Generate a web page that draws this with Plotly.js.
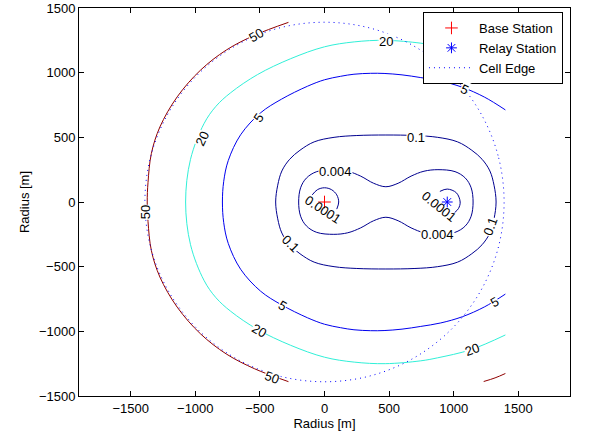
<!DOCTYPE html>
<html>
<head>
<meta charset="utf-8">
<script src="https://cdn.plot.ly/plotly-3.0.1.min.js"></script>
<style>html,body{margin:0;padding:0;background:#fff;}#chart{width:590px;height:439px;}</style>
</head>
<body>
<div id="chart"></div>
<script>
// ---- stations ----
const baseX = [0], baseY = [0];
const relayX = [950], relayY = [0];

// ---- cell edge (dotted circle) ----
const edgeX = [1390, 1343, 1204, 983, 695, 360, 0, -360, -695, -983, -1204, -1343, -1390, -1343, -1204, -983, -695, -360, 0, 360, 695, 983, 1204, 1343, 1390];
const edgeY = [0, 360, 695, 983, 1204, 1343, 1390, 1343, 1204, 983, 695, 360, 0, -360, -695, -983, -1204, -1343, -1390, -1343, -1204, -983, -695, -360, 0];

// ---- contour level 50 ----
const c50X = [-279, -540, -760, -959, -1140, -1274, -1340, -1366, -1372, -1366, -1340, -1274, -1140, -959, -760, -540, -279];
const c50Y = [1389, 1290, 1175, 1020, 813, 580, 375, 150, 0, -150, -375, -580, -813, -1020, -1175, -1290, -1389];
const c50bX = [1232, 1320, 1400];
const c50bY = [-1388, -1360, -1326];
const c50tX = [1232, 1320, 1400];
const c50tY = [1388, 1360, 1326];

// ---- contour level 20 ----
const c20X = [1400, 1132, 874, 745, 470, 230, 0, -262, -519, -726, -840, -933, -1037, -1075, -1037, -933, -840, -726, -519, -262, 0, 230, 470, 745, 874, 1132, 1400];
const c20Y = [1028, 1142, 1205, 1228, 1250, 1238, 1200, 1108, 985, 845, 740, 605, 330, 0, -330, -605, -740, -845, -985, -1108, -1200, -1238, -1250, -1228, -1205, -1142, -1028];

// ---- contour level 5 ----
const c5X = [1400, 1240, 1067, 900, 745, 600, 461, 357, 228, 125, 0, -132, -333, -494, -649, -745, -780, -790, -780, -745, -649, -494, -333, -132, 0, 125, 228, 357, 461, 600, 745, 900, 1067, 1240, 1400];
const c5Y = [712, 810, 887, 935, 962, 983, 994, 995, 988, 972, 945, 895, 795, 690, 520, 320, 160, 0, -160, -320, -520, -690, -795, -895, -945, -972, -988, -995, -994, -983, -962, -935, -887, -810, -712];

// ---- contour level 0.1 ----
const c01X = [-378, -362, -330, -270, -190, -80, 74, 250, 475, 700, 876, 1030, 1140, 1220, 1280, 1312, 1328, 1312, 1280, 1220, 1140, 1030, 876, 700, 475, 250, 74, -80, -190, -270, -330, -362, -378];
const c01Y = [0, 130, 240, 330, 400, 465, 500, 514, 518, 514, 500, 465, 400, 330, 240, 130, 0, -130, -240, -330, -400, -465, -500, -514, -518, -514, -500, -465, -400, -330, -240, -130, 0];

// ---- contour level 0.004 ----
const c004X = [-200, -185, -140, -60, 72, 180, 280, 380, 475, 570, 670, 770, 878, 1010, 1090, 1135, 1150, 1135, 1090, 1010, 878, 770, 670, 570, 475, 380, 280, 180, 72, -60, -140, -185, -200];
const c004Y = [0, 110, 185, 235, 250, 238, 200, 145, 118, 145, 200, 238, 250, 235, 185, 110, 0, -110, -185, -235, -250, -238, -200, -145, -118, -145, -200, -238, -250, -235, -185, -110, 0];

// ---- contour level 0.0001 (two arcs) ----
const c0001aX = [-95, -55, 0, 55, 95, 110, 95];
const c0001aY = [55, 95, 110, 95, 55, 0, -55];
const c0001bX = [893, 950, 1021, 1050, 1037, 1007];
const c0001bY = [82, 100, 71, 0, -50, -82];

// ---- contour labels ----
const labText = ['0.0001', '0.0001', '0.004', '0.004', '0.1', '0.1', '0.1', '5', '5', '5', '5', '20', '20', '20', '20', '50', '50', '50'];
const labX = [-14, 884, 87, 874, 706, -262, 1286, -507, 1085, -326, 1312, -945, 474, -507, 1145, -533, -1379, -403];
const labY = [-59, -36, 232, -250, 498, -317, -193, 653, 870, -800, -774, 491, 1238, -993, -1143, 1290, -77, -1354];
const labAngle = [33, 39, 0, 0, 0, 45, -70, -55, 25, 30, -30, -65, 0, 30, -20, -30, -90, 20];
const labOnLine = [false, false, true, true, true, true, true, true, true, true, true, true, true, true, true, true, true, true];

const navy = '#00008f', blue5 = '#0000ef', cyan20 = '#30f0d8', red50 = '#8f0000';
function line(x, y, color) {
  return {x: x, y: y, type: 'scatter', mode: 'lines', showlegend: false, hoverinfo: 'skip',
          line: {color: color, width: 1, shape: 'spline', smoothing: 1}};
}

const traces = [
  line(c50X, c50Y, red50), line(c50bX, c50bY, red50), line(c50tX, c50tY, red50),
  line(c20X, c20Y, cyan20), line(c5X, c5Y, blue5),
  line(c01X, c01Y, navy), line(c004X, c004Y, navy),
  line(c0001aX, c0001aY, navy), line(c0001bX, c0001bY, navy),
  {x: edgeX, y: edgeY, type: 'scatter', mode: 'lines', name: 'Cell Edge', legendrank: 3,
   line: {color: 'blue', width: 1, dash: '1px,4px', shape: 'spline', smoothing: 1}},
  {x: baseX, y: baseY, type: 'scatter', mode: 'markers', name: 'Base Station', legendrank: 1,
   marker: {symbol: 'cross-thin-open', size: 9, color: 'red', line: {color: 'red', width: 1}}},
  {x: relayX, y: relayY, type: 'scatter', mode: 'markers', name: 'Relay Station', legendrank: 2,
   marker: {symbol: 'asterisk-open', size: 9, color: 'blue', line: {color: 'blue', width: 1}}}
];

const annotations = labText.map((t, i) => ({
  x: labX[i], y: labY[i], xref: 'x', yref: 'y', text: t, showarrow: false,
  textangle: labAngle[i], font: {family: 'Liberation Sans, Arial, sans-serif', size: 13, color: 'black'},
  bgcolor: labOnLine[i] ? 'white' : 'rgba(0,0,0,0)', borderpad: 0
}));

const axisCommon = {
  ticks: 'inside', ticklen: 5, tickwidth: 1, tickcolor: 'black',
  showline: true, linecolor: 'black', linewidth: 1, mirror: 'ticks',
  showgrid: false, zeroline: false, automargin: false,
  tickfont: {family: 'Liberation Sans, Arial, sans-serif', size: 13, color: 'black'},
  tickvals: [-1500, -1000, -500, 0, 500, 1000, 1500]
};

const layout = {
  width: 590, height: 439,
  margin: {l: 79, r: 20, t: 8, b: 43},
  paper_bgcolor: 'white', plot_bgcolor: 'white',
  font: {family: 'Liberation Sans, Arial, sans-serif', size: 13, color: 'black'},
  xaxis: Object.assign({}, axisCommon, {range: [-1900, 1900],
    title: {text: 'Radius [m]', font: {size: 13, color: 'black'}, standoff: 2}}),
  yaxis: Object.assign({}, axisCommon, {range: [-1500, 1500],
    title: {text: 'Radius [m]', font: {size: 13, color: 'black'}, standoff: 6}}),
  showlegend: true,
  legend: {x: 0.9857, y: 0.9897, xanchor: 'right', yanchor: 'top', bgcolor: 'white',
           bordercolor: 'black', borderwidth: 1, font: {size: 13, color: 'black'},
           tracegroupgap: 0, itemwidth: 45, traceorder: 'normal'},
  annotations: annotations
};

Plotly.newPlot('chart', traces, layout, {displayModeBar: false, staticPlot: true});
</script>
</body>
</html>
